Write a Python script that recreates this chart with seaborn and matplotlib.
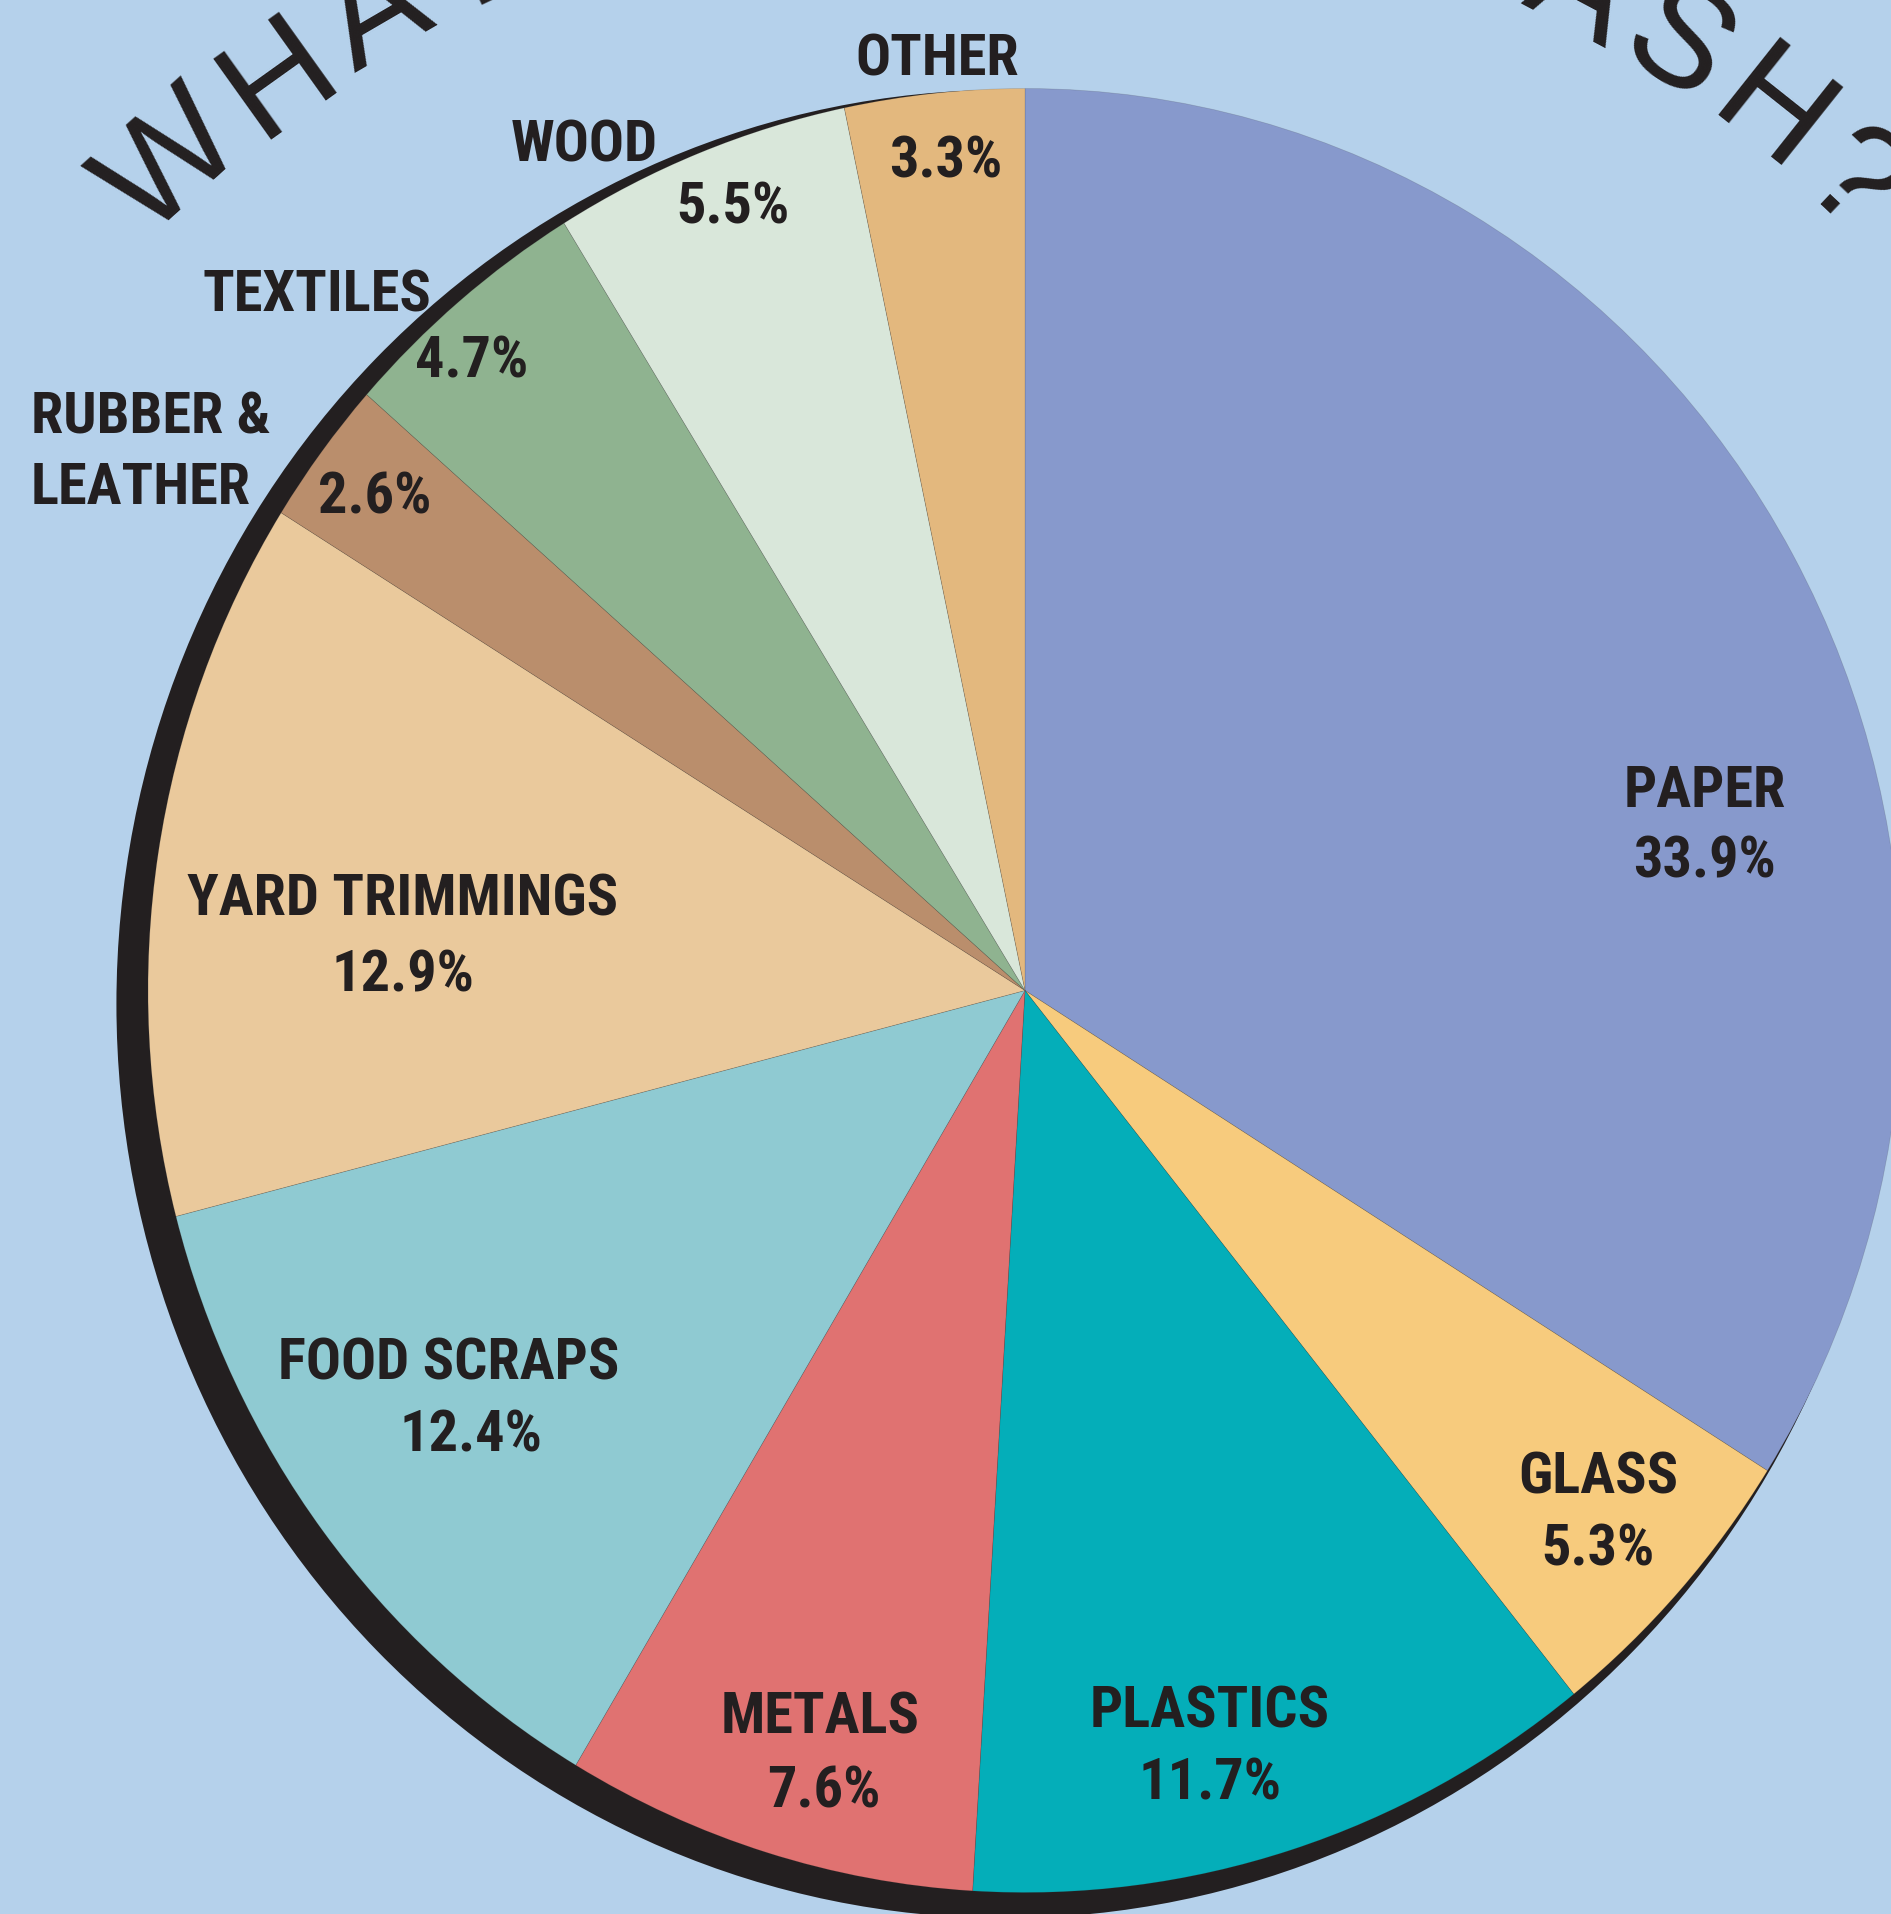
import numpy as np
import matplotlib
matplotlib.use("Agg")
import matplotlib.pyplot as plt
from matplotlib import font_manager
from matplotlib.patches import Circle
import seaborn as sns

# what's in our trash - share by material
materials = ["PAPER", "GLASS", "PLASTICS", "METALS", "FOOD SCRAPS",
             "YARD TRIMMINGS", "RUBBER &\nLEATHER", "TEXTILES", "WOOD", "OTHER"]
shares = [33.9, 5.3, 11.7, 7.6, 12.4, 12.9, 2.6, 4.7, 5.5, 3.3]
slice_colors = ["#8799CC", "#F7CB7D", "#04AEB9", "#E07271", "#8FCAD2",
                "#EAC99C", "#BA8E6C", "#8FB390", "#D9E7DA", "#E3B87E"]
title = "WHAT'S IN OUR TRASH?"

# label placement in image pixels (name centre, percent centre)
name_pos = [(1705, 786), (1598, 1473), (1210, 1707), (820, 1713), (449, 1359),
            (403, 895), (31, 412), (317, 291), (584, 140), (937, 55)]
pct_pos = [(1705, 857), (1598, 1544), (1210, 1779), (824, 1786), (471, 1431),
           (403, 971), (375, 492), (472, 356), (733, 202), (946, 156)]

W, H = 1891, 1914
BG = "#B5D1EB"
INK = "#231F20"

sns.set_style("white")


def pick_font(cands):
    for c in cands:
        try:
            font_manager.findfont(font_manager.FontProperties(family=c), fallback_to_default=False)
            return c
        except Exception:
            pass
    return "DejaVu Sans"


narrow = pick_font(["Liberation Sans Narrow", "DejaVu Sans Condensed", "Roboto Condensed"])
plain = pick_font(["Liberation Sans", "Roboto", "DejaVu Sans"])
plt.rcParams["font.family"] = [narrow, "DejaVu Sans"]

fig = plt.figure(figsize=(W / 100, H / 100), dpi=100, facecolor=BG)
ax = fig.add_axes([0, 0, 1, 1])
ax.set_facecolor(BG)

# pie centre (1025, 990.5) px, radii 877 x 902 px (slightly squashed)
cx, cy, rx, ry = 1025, 990.5, 877, 902

# drop shadow, offset down-left
shadow = Circle((-0.0225, -0.015), 1.0135, facecolor=INK, edgecolor="none", zorder=0.5)
ax.add_patch(shadow)

pal = sns.color_palette(slice_colors)
ax.pie(shares, colors=pal, startangle=90, counterclock=False, radius=1, center=(0, 0),
       wedgeprops=dict(linewidth=0.5, edgecolor=(0.2, 0.2, 0.2, 0.2)))
ax.set_aspect("auto")
ax.set_xlim(-cx / rx, (W - cx) / rx)
ax.set_ylim(-(H - cy) / ry, cy / ry)
ax.axis("off")


def fx(x, y):
    return x / W, 1 - y / H


cap = 21  # half cap height in px
for name, val, (nx, ny), (px, py) in zip(materials, shares, name_pos, pct_pos):
    lines = name.split("\n")
    ha = "left" if len(lines) > 1 else "center"
    for i, ln in enumerate(lines):
        fig.text(*fx(nx, ny + cap + i * 71), ln, ha=ha, va="baseline",
                 fontsize=42, fontweight="bold", color=INK, zorder=5)
    fig.text(*fx(px, py + cap), f"{val}%", ha="center", va="baseline",
             fontsize=42, fontweight="bold", color=INK, zorder=5)

# curved title around the pie
adv = {"W": 944, "H": 722, "A": 667, "T": 611, "'": 191, "S": 667, " ": 278,
       "I": 278, "N": 722, "O": 778, "U": 722, "R": 722, "?": 556}
w = np.array([adv[c] for c in title], dtype=float)
centres = np.cumsum(w) - w / 2
a0, a1 = 132.0, 46.6
angles = a0 - (centres - centres[0]) / (centres[-1] - centres[0]) * (a0 - a1)
tcx, tcy, tr = 1000, 1086, 1200
for ch, a in zip(title, angles):
    t = np.deg2rad(a)
    x = tcx + tr * np.cos(t)
    y = tcy - tr * np.sin(t)
    fig.text(*fx(x, y), ch, ha="center", va="baseline", rotation=a - 90,
             rotation_mode="anchor", fontsize=104, family=plain, color=INK)

fig.savefig("out.png", dpi=100, facecolor=BG)
